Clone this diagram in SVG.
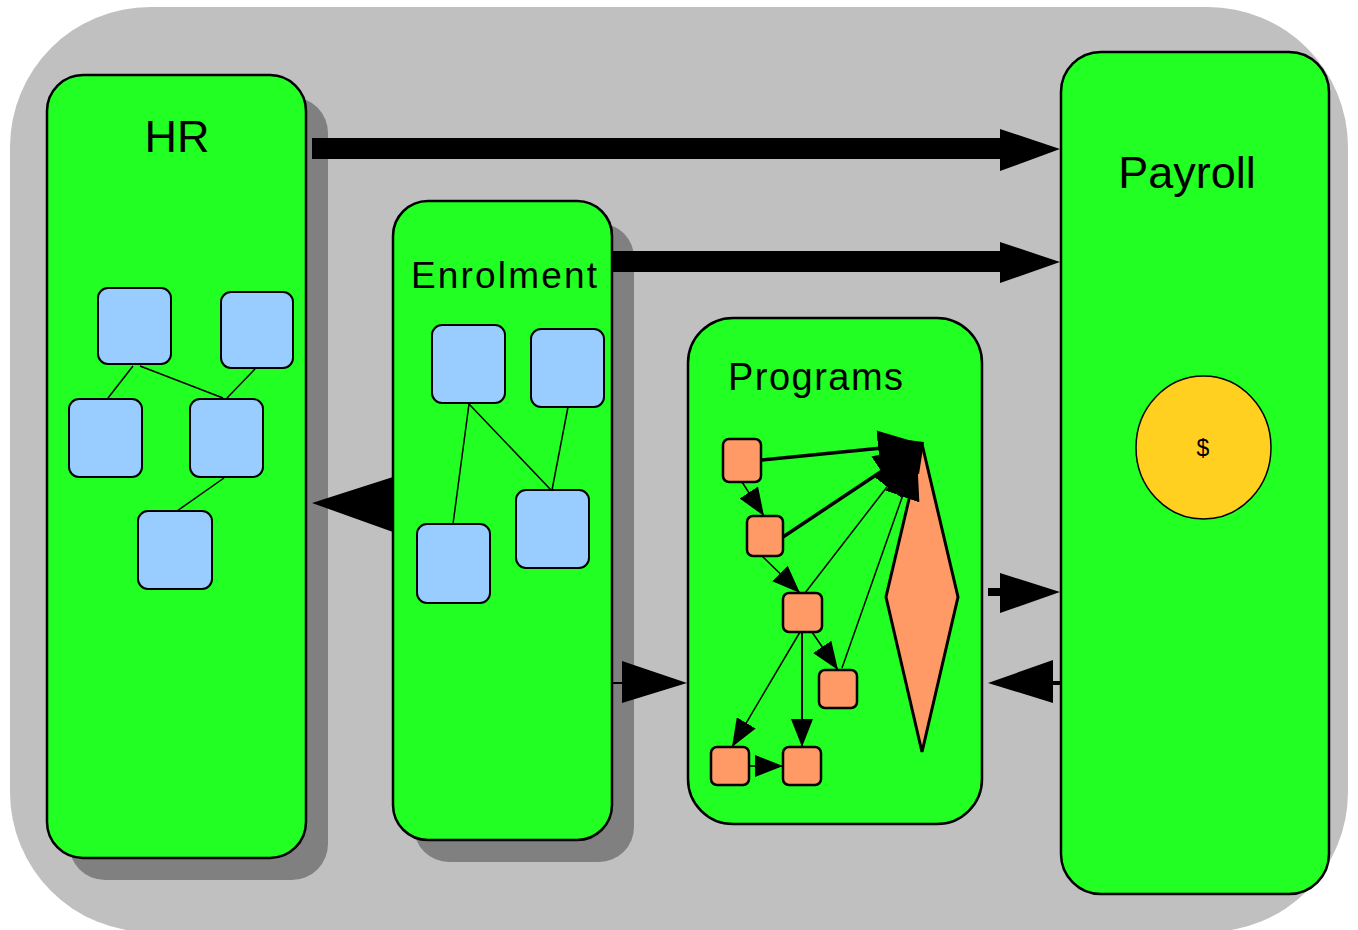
<svg xmlns="http://www.w3.org/2000/svg" width="1358" height="930" viewBox="0 0 1358 930">
<style>
.shadow{fill:#808080}
.box{fill:#22FF22;stroke:#000;stroke-width:2.5}
.blue{fill:#99CCFF;stroke:#000;stroke-width:2}
.org{fill:#FF9966;stroke:#000;stroke-width:2.5}
.ln{stroke:#000;stroke-width:1.5;fill:none}
.lbl{font-family:"Liberation Sans",Arial,sans-serif;fill:#000}
</style>
<defs>
<marker id="ah" markerUnits="userSpaceOnUse" markerWidth="28" markerHeight="22" refX="28" refY="11" orient="auto"><path d="M0,0 L28,11 L0,22 z" fill="#000"/></marker>
<marker id="ahb" markerUnits="userSpaceOnUse" markerWidth="44" markerHeight="36" refX="44" refY="18" orient="auto"><path d="M0,0 L44,18 L0,36 z" fill="#000"/></marker>
</defs>
<rect x="0" y="0" width="1358" height="930" fill="#fff"/>
<rect id="background" x="10" y="7" width="1338" height="925" rx="140" fill="#C0C0C0"/>

<g id="HR">
<rect class="shadow" x="69" y="97" width="259" height="783" rx="36"/>
<rect class="box" x="47" y="75" width="259" height="783" rx="36"/>
<text class="lbl" x="177" y="152" font-size="45" text-anchor="middle">HR</text>
<g id="hr-links">
<line class="ln" x1="133" y1="366" x2="108" y2="398"/>
<line class="ln" x1="140" y1="366" x2="223" y2="398"/>
<line class="ln" x1="255" y1="369" x2="227" y2="398"/>
<line class="ln" x1="224" y1="478" x2="177" y2="511"/>
</g>
<rect id="hr1" class="blue" x="98" y="288" width="73" height="76" rx="10"/>
<rect id="hr2" class="blue" x="221" y="292" width="72" height="76" rx="10"/>
<rect id="hr3" class="blue" x="69" y="399" width="73" height="78" rx="10"/>
<rect id="hr4" class="blue" x="190" y="399" width="73" height="78" rx="10"/>
<rect id="hr5" class="blue" x="138" y="511" width="74" height="78" rx="10"/>
</g>

<g id="Enrolment">
<rect class="shadow" x="414" y="223" width="220" height="639" rx="35"/>
<rect class="box" x="393" y="201" width="219" height="639" rx="35"/>
<text class="lbl" x="411" y="288" font-size="37" textLength="186" lengthAdjust="spacing">Enrolment</text>
<g id="en-links">
<line class="ln" x1="469" y1="404" x2="453" y2="524"/>
<line class="ln" x1="469" y1="404" x2="551" y2="490"/>
<line class="ln" x1="568" y1="407" x2="552" y2="490"/>
</g>
<rect id="en1" class="blue" x="432" y="325" width="73" height="78" rx="10"/>
<rect id="en2" class="blue" x="531" y="329" width="73" height="78" rx="10"/>
<rect id="en3" class="blue" x="417" y="524" width="73" height="79" rx="10"/>
<rect id="en4" class="blue" x="516" y="490" width="73" height="78" rx="10"/>
</g>

<g id="Programs">
<rect class="box" x="688" y="318" width="294" height="506" rx="45"/>
<text class="lbl" x="728" y="390" font-size="38" textLength="175" lengthAdjust="spacing">Programs</text>
<polygon id="pg-diamond" points="922,444 958,597 922,752 886,597" fill="#FF9966" stroke="#000" stroke-width="3"/>
<g id="pg-links">
<line class="ln" x1="805" y1="593" x2="914" y2="452" marker-end="url(#ahb)"/>
<line class="ln" x1="842" y1="668" x2="917" y2="455" marker-end="url(#ahb)"/>
<line stroke="#000" stroke-width="3.5" x1="761" y1="460" x2="922" y2="444" marker-end="url(#ahb)"/>
<line stroke="#000" stroke-width="3.5" x1="783" y1="537" x2="918" y2="447" marker-end="url(#ahb)"/>
<polygon points="883,437 924,442 919,474 896,474 886,462" fill="#000"/>
<line class="ln" x1="742" y1="482" x2="764" y2="516" marker-end="url(#ah)"/>
<line class="ln" x1="762" y1="556" x2="800" y2="593" marker-end="url(#ah)"/>
<line class="ln" x1="812" y1="632" x2="838" y2="670" marker-end="url(#ah)"/>
<line class="ln" x1="800" y1="632" x2="732" y2="747" marker-end="url(#ah)"/>
<line stroke="#000" stroke-width="2" x1="802" y1="632" x2="802" y2="747" marker-end="url(#ah)"/>
<line class="ln" x1="749" y1="766" x2="783" y2="766" marker-end="url(#ah)"/>
</g>
<rect id="pgA" class="org" x="723" y="439" width="38" height="43" rx="6"/>
<rect id="pgB" class="org" x="747" y="516" width="36" height="40" rx="6"/>
<rect id="pgC" class="org" x="783" y="593" width="39" height="39" rx="6"/>
<rect id="pgD" class="org" x="819" y="670" width="38" height="38" rx="6"/>
<rect id="pgE" class="org" x="711" y="747" width="38" height="38" rx="6"/>
<rect id="pgF" class="org" x="783" y="747" width="38" height="38" rx="6"/>
</g>

<g id="Payroll">
<rect class="box" x="1061" y="52" width="268" height="842" rx="40"/>
<text class="lbl" x="1187" y="188" font-size="45" text-anchor="middle">Payroll</text>
<g id="coin">
<ellipse cx="1203.5" cy="447.5" rx="67.5" ry="71.5" fill="#FFD020" stroke="#000" stroke-width="1.5"/>
<text class="lbl" x="1203" y="456" font-size="23" text-anchor="middle">$</text>
</g>
</g>

<g id="connectors" fill="#000">
<rect x="312" y="138" width="690" height="21"/>
<polygon points="1000,129 1060,149 1000,171"/>
<rect x="612" y="251" width="390" height="21"/>
<polygon points="1000,242 1060,262 1000,283"/>
<polygon points="393,477 312,503 393,532"/>
<rect x="612" y="682" width="12" height="2"/>
<polygon points="622,661 687,683 622,703"/>
<rect x="988" y="588" width="14" height="8"/>
<polygon points="1000,573 1060,592 1000,613"/>
<polygon points="1053,660 988,683 1053,703"/>
<rect x="1051" y="681" width="10" height="4"/>
</g>
</svg>
